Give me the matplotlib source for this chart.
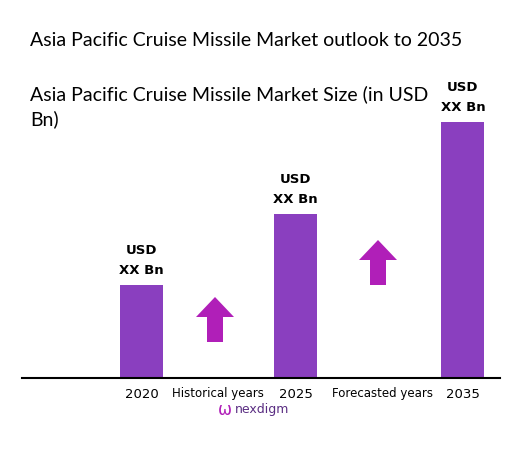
import matplotlib
matplotlib.use("Agg")
import matplotlib.pyplot as plt
from matplotlib.patches import FancyArrow

years = ["2020", "2025", "2035"]
values = [93, 164, 256]
bar_labels = ["USD\nXX Bn", "USD\nXX Bn", "USD\nXX Bn"]
period_labels = ["Historical years", "Forecasted years"]

W, H = 529, 466
fig = plt.figure(figsize=(W/100, H/100), dpi=100)
fig.text(30/W, 1-40/H, "Asia Pacific Cruise Missile Market outlook to 2035", fontsize=14, va="center", family="Lato")
fig.text(30/W, 1-107/H, "Asia Pacific Cruise Missile Market Size (in USD\nBn)", fontsize=14, va="center", family="Lato", linespacing=1.45)

ax = fig.add_axes([22/W, (H-378)/H, 478/W, 300/H])
ax.set_xlim(22, 500); ax.set_ylim(0, 300)
ax.patch.set_alpha(0)
for s in ["top", "right", "left"]:
    ax.spines[s].set_visible(False)
ax.spines["bottom"].set_linewidth(1.5)
ax.set_xticks([]); ax.set_yticks([])
xs = [141.5, 295.5, 463]
ax.bar(xs, values, width=43, color="#8a3fbf")
for x, v, l in zip(xs, values, bar_labels):
    ax.text(x, v + 8, l, ha="center", va="bottom", fontsize=9.5, fontweight="bold", linespacing=1.7)
for x, y in zip(xs, years):
    ax.text(x, -16, y, ha="center", va="center", fontsize=9.5)
for x, l in zip([218, 383], period_labels):
    ax.text(x, -16, l, ha="center", va="center", fontsize=8.5)
for x, y0 in [(215, 36), (378, 93)]:
    ax.add_patch(FancyArrow(x, y0, 0, 45, width=16, head_width=38, head_length=20,
                            length_includes_head=True, color="#b01fb8", lw=0))
fig.text(235/W, 1-410/H, "nexdigm", fontsize=9, color="#5a2d82", ha="left", va="center")
fig.text(225/W, 1-410/H, "\u03c9", fontsize=12, color="#b01fb8", ha="center", va="center")
fig.savefig("out.png", dpi=100)
